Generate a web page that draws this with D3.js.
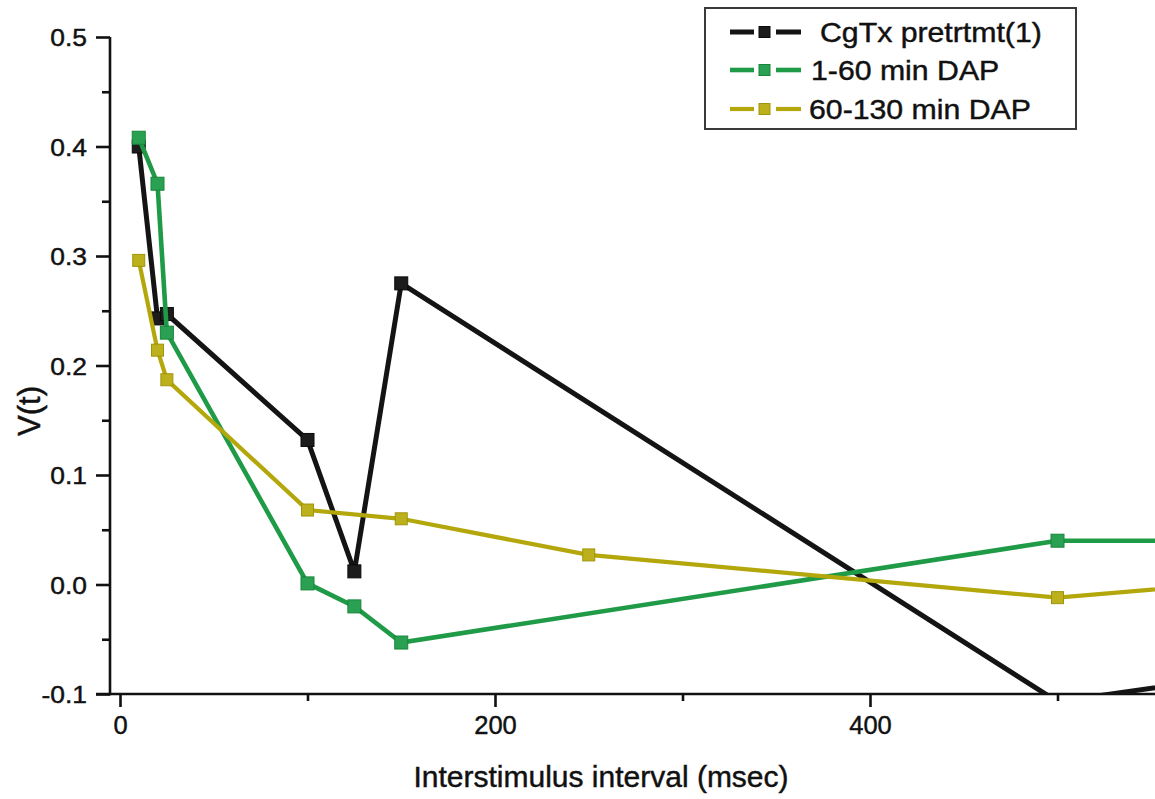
<!DOCTYPE html>
<html>
<head>
<meta charset="utf-8">
<script src="https://cdn.jsdelivr.net/npm/d3@7"></script>
<style>
  html, body { margin: 0; padding: 0; background: #fff; }
  svg { display: block; }
  text { font-family: Arial, "Liberation Sans", sans-serif; fill: #111; stroke: #111; stroke-width: 0.45px; }
</style>
</head>
<body>
<svg id="chart" width="1155" height="799"></svg>
<script>
// ---- data ----
const cgtxX = [10, 20, 25, 100, 125, 150, 500, 1000];
const cgtxY = [0.400, 0.243, 0.247, 0.132, 0.012, 0.275, -0.107, 0.016];
const dap1X = [10, 20, 25, 100, 125, 150, 500, 1000];
const dap1Y = [0.408, 0.366, 0.230, 0.001, -0.020, -0.053, 0.040, 0.040];
const dap2X = [10, 20, 25, 100, 150, 250, 500, 1000];
const dap2Y = [0.296, 0.214, 0.187, 0.068, 0.060, 0.027, -0.012, 0.061];
const seriesNames = ["CgTx pretrtmt(1)", "1-60 min DAP", "60-130 min DAP"];
const xTickValues = [0, 200, 400];
const xTickLabels = ["0", "200", "400"];
const xMinorTicks = [100, 300, 500];
const yTickValues = [-0.1, 0.0, 0.1, 0.2, 0.3, 0.4, 0.5];
const yTickLabels = ["-0.1", "0.0", "0.1", "0.2", "0.3", "0.4", "0.5"];
const yMinorTicks = [-0.05, 0.05, 0.15, 0.25, 0.35, 0.45];
const xTitle = "Interstimulus interval (msec)";
const yTitle = "V(t)";

(function () {
const svg = d3.select("#chart");
const pLeft = 110, pRight = 1155, pTop = 37, pBottom = 694;
const x = d3.scaleLinear().domain([-5.333, 552]).range([pLeft, pRight]);
const y = d3.scaleLinear().domain([-0.1, 0.5]).range([pBottom, pTop]);

const colors = ["#141414", "#1f9a47", "#b3a70c"];
const markerFill = ["#1c1c1c", "#2aa152", "#bcb01c"];
const markerStroke = ["#0a0a0a", "#17863b", "#a0950a"];
const lineWidths = [5, 4.6, 4.2];

svg.append("defs").append("clipPath").attr("id", "plotclip")
  .append("rect").attr("x", pLeft).attr("y", 0).attr("width", pRight - pLeft).attr("height", pBottom);

// ---- axes ----
const axisColor = "#111";
const yAxis = svg.append("g").attr("transform", `translate(${pLeft},0)`)
  .call(d3.axisLeft(y).tickValues(yTickValues).tickSize(14).tickSizeOuter(0)
    .tickFormat((d, i) => yTickLabels[i]));
const yMinor = svg.append("g").attr("transform", `translate(${pLeft},0)`)
  .call(d3.axisLeft(y).tickValues(yMinorTicks).tickSize(8).tickSizeOuter(0).tickFormat(""));
const xAxis = svg.append("g").attr("transform", `translate(0,${pBottom})`)
  .call(d3.axisBottom(x).tickValues(xTickValues).tickSize(13).tickSizeOuter(0)
    .tickFormat((d, i) => xTickLabels[i]));
const xMinor = svg.append("g").attr("transform", `translate(0,${pBottom})`)
  .call(d3.axisBottom(x).tickValues(xMinorTicks).tickSize(7).tickSizeOuter(0).tickFormat(""));

[yAxis, yMinor, xAxis, xMinor].forEach(g => {
  g.attr("font-size", null).attr("font-family", null);
  g.select(".domain").remove();
  g.selectAll(".tick line").attr("stroke", axisColor).attr("stroke-width", 2.6);
});
svg.append("line").attr("x1", pLeft).attr("x2", pLeft).attr("y1", pTop).attr("y2", pBottom + 1.3)
  .attr("stroke", axisColor).attr("stroke-width", 2.6);
svg.append("line").attr("x1", 96).attr("x2", pRight).attr("y1", pBottom).attr("y2", pBottom)
  .attr("stroke", axisColor).attr("stroke-width", 2.6);

yAxis.selectAll(".tick text")
  .attr("x", -23).attr("dy", "0.36em")
  .style("font-size", "24px")
  .each(function () {
    const w = this.getComputedTextLength();
    d3.select(this).attr("textLength", w * 1.1).attr("lengthAdjust", "spacingAndGlyphs");
  });
xAxis.selectAll(".tick text")
  .attr("y", 22).attr("dy", "0.71em")
  .style("font-size", "25.5px");

svg.append("text").attr("x", 601).attr("y", 787).attr("text-anchor", "middle")
  .style("font-size", "30px").text(xTitle);
svg.append("text").attr("transform", "translate(40,411) rotate(-90)").attr("text-anchor", "middle")
  .style("font-size", "31px").text(yTitle);

// ---- series ----
const series = [
  { xs: cgtxX, ys: cgtxY },
  { xs: dap1X, ys: dap1Y },
  { xs: dap2X, ys: dap2Y }
];
const plot = svg.append("g").attr("clip-path", "url(#plotclip)");
const line = d3.line().x(d => x(d[0])).y(d => y(d[1]));
series.forEach((s, i) => {
  const pts = s.xs.map((v, j) => [v, s.ys[j]]);
  const g = plot.append("g");
  g.append("path").datum(pts).attr("d", line).attr("fill", "none")
    .attr("stroke", colors[i]).attr("stroke-width", lineWidths[i]).attr("stroke-linejoin", "miter");
  const ms = i === 2 ? 12 : 13;
  g.selectAll("rect").data(pts).enter().append("rect")
    .attr("x", d => x(d[0]) - ms / 2).attr("y", d => y(d[1]) - ms / 2)
    .attr("width", ms).attr("height", ms)
    .attr("fill", markerFill[i]).attr("stroke", markerStroke[i]).attr("stroke-width", 1);
});

// ---- legend ----
const lg = svg.append("g");
lg.append("rect").attr("x", 705).attr("y", 8).attr("width", 371).attr("height", 121)
  .attr("fill", "#fff").attr("stroke", "#3a3a3a").attr("stroke-width", 2);
const rowY = [32, 70, 109];
const textX = [820, 811, 809];
seriesNames.forEach((name, i) => {
  const cy = rowY[i];
  lg.append("line").attr("x1", 730).attr("x2", 754).attr("y1", cy).attr("y2", cy)
    .attr("stroke", colors[i]).attr("stroke-width", lineWidths[i]);
  lg.append("line").attr("x1", 776).attr("x2", 801).attr("y1", cy).attr("y2", cy)
    .attr("stroke", colors[i]).attr("stroke-width", lineWidths[i]);
  lg.append("rect").attr("x", 759).attr("y", cy - 5.5).attr("width", 11).attr("height", 11)
    .attr("fill", markerFill[i]).attr("stroke", markerStroke[i]).attr("stroke-width", 1);
  lg.append("text").attr("x", textX[i]).attr("y", cy + 10)
    .style("font-size", "28px").text(name)
    .each(function () {
      const w = this.getComputedTextLength();
      d3.select(this).attr("textLength", w * 1.08).attr("lengthAdjust", "spacingAndGlyphs");
    });
});
})();
</script>
</body>
</html>
